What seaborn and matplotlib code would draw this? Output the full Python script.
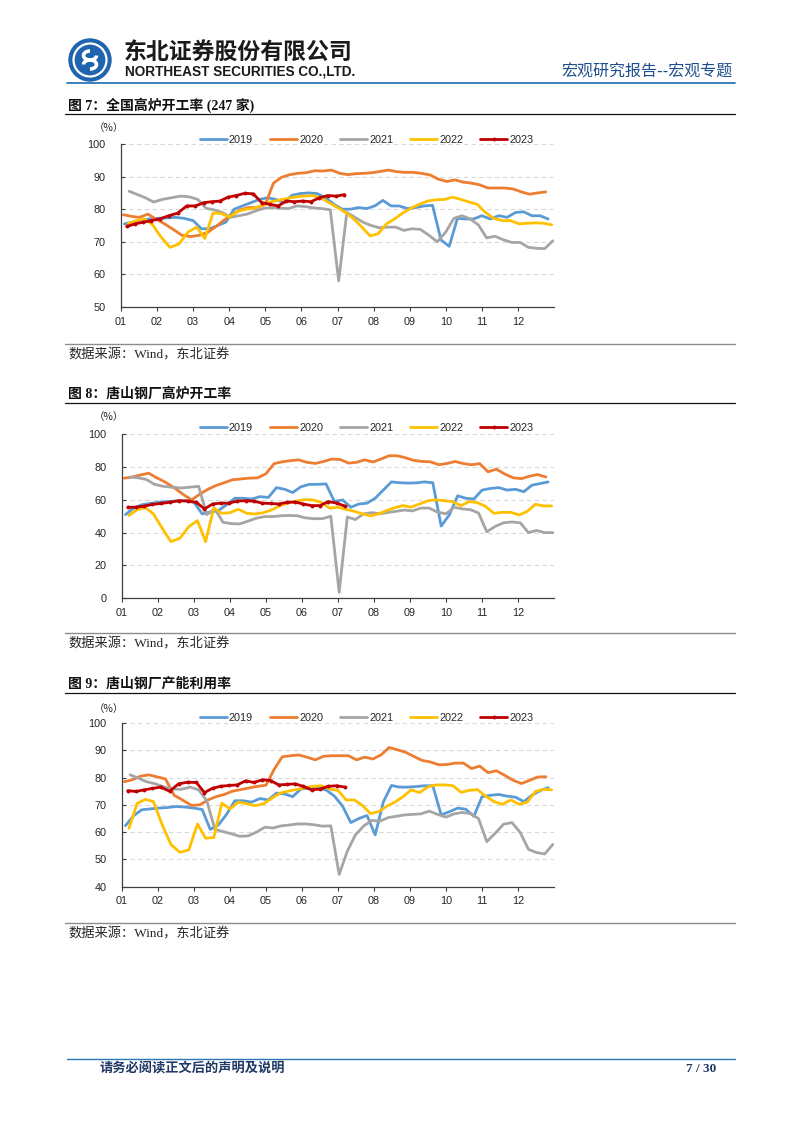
import numpy as np
import pandas as pd
import matplotlib
matplotlib.use("Agg")
import matplotlib.pyplot as plt
import seaborn as sns
from matplotlib.patches import Circle, Arc

# ---------------- data ----------------
years = ["2019", "2020", "2021", "2022", "2023"]
first_week = {"2019": "2019-01-04", "2020": "2020-01-03", "2021": "2021-01-08",
              "2022": "2022-01-07", "2023": "2023-01-06"}
month_labels = ["01", "02", "03", "04", "05", "06", "07", "08", "09", "10", "11", "12"]

# Figure 7: national blast furnace operating rate (247 mills), %
c1_2019 = [75.5, 76, 76.5, 77, 77.2, 77.3, 77.5, 77.2, 76.5, 74, 74, 75, 76, 80, 81, 82, 83, 83.5, 83, 82,
           84.3, 84.8, 85, 84.8, 83.5, 81.5, 80, 80, 80.5, 80.2, 81, 82.7, 81, 81, 80.2, 80.5, 81, 81.2, 70.6, 68.6,
           77.2, 77, 77, 78, 77, 78, 77.5, 79, 79.2, 78, 78, 77]
c1_2020 = [78.3, 77.8, 77.5, 78.5, 77, 75.5, 73.8, 72, 71.6, 72, 72.8, 74.5, 76.5, 78.3, 79.8, 80.5, 80.5, 81.5, 88, 89.8,
           90.6, 91, 91.2, 91.8, 91.7, 92, 91, 90.6, 90.9, 91, 91.2, 91.6, 92, 91.5, 91.3, 91.3, 91, 90.5, 89.2, 88.5,
           89, 88.3, 88, 87.5, 86.5, 86.5, 86.5, 86.2, 85.3, 84.6, 85, 85.3]
c1_2021 = [85.5, 84.5, 83.5, 82.2, 83, 83.5, 84, 83.8, 83, 80.3, 79.8, 79, 77.5, 78, 78.5, 79.5, 80.3, 80.5, 80.3, 80.2,
           81, 80.8, 80.4, 80.2, 79.8, 58, 79, 77.5, 76, 75, 74.3, 74.5, 74.5, 73.5, 74, 73.8, 72, 70, 73, 77.2,
           78, 77, 75.2, 71.2, 71.7, 70.6, 69.8, 69.8, 68.3, 68, 67.9, 70.3]
c1_2022 = [75.5, 76.5, 77, 75.3, 71.5, 68.3, 69.3, 73, 74.5, 71, 78.8, 78.7, 77.6, 79.3, 80, 80.3, 81.3, 82.3, 82.8, 83.3,
           83.8, 84, 84.2, 83.5, 82, 80.5, 79, 77, 74.5, 71.8, 72.5, 75.5, 77, 78.8, 80.3, 81.5, 82.5, 82.9, 83, 83.7,
           83, 82.2, 81.5, 79, 77.2, 76.5, 76.5, 75.5, 75.7, 75.8, 75.7, 75.2]
c1_2023 = [74.7, 75.5, 76, 76.5, 77, 78, 78.8, 81, 81, 82, 82.3, 82.5, 83.7, 84.2, 84.9, 84.7, 82, 81.5, 81, 82.5,
           82.3, 82.5, 82.3, 83.5, 84.2, 84, 84.5]

# Figure 8: Tangshan blast furnace operating rate, %
c2_2019 = [51, 55, 57, 57.8, 58.5, 59, 59.3, 59.5, 58.5, 51.5, 52.5, 53.5, 57, 61, 61, 60.5, 62, 61.5, 67.5, 66.5,
           64.5, 68, 69.5, 69.5, 69.8, 59, 60, 55.5, 57.5, 58, 61, 66, 71, 70.5, 70.3, 70.4, 71, 70.5, 44, 51,
           62.5, 61, 60.5, 66, 67, 67.5, 66, 66.5, 65, 69, 70, 71]
c2_2020 = [73.3, 74, 75.3, 76.3, 73.5, 70.8, 67.5, 63.5, 60, 63.5, 66.5, 68.8, 70.5, 72.3, 72.8, 73.3, 73.5, 76, 82.2, 83.3,
           84, 84.5, 83, 82.3, 83.5, 85, 84.7, 82.5, 83, 84.5, 83.2, 85, 87, 87, 85.8, 84.2, 83.5, 83.3, 81.5, 82.3,
           83.5, 82.2, 81.5, 82.2, 77.2, 78.8, 75.8, 73.5, 73, 74.5, 75.5, 74]
c2_2021 = [74, 73.5, 72.5, 69.5, 68.3, 67.7, 67.3, 67.8, 68.3, 51, 54.5, 46.3, 45.5, 45.3, 47, 48.8, 49.8, 49.8, 50.3, 50.5,
           50.3, 49, 48.5, 48.5, 50, 3.5, 49.5, 48, 51.5, 52.2, 51.5, 52.3, 53, 53.8, 53.3, 55, 55, 52.5, 51.5, 55.5,
           54.5, 54, 52, 40.5, 43.8, 46, 46.5, 46, 40, 41.3, 40, 40]
c2_2022 = [50.5, 54, 55.3, 51.5, 43, 34.5, 36.5, 43.7, 47.3, 34.5, 55, 51.8, 52.2, 54.3, 51.8, 51.4, 52.2, 53.9, 56.5, 58,
           59.2, 60.2, 60, 58.5, 55, 55.5, 54.2, 53, 51.5, 50.2, 51.5, 53.5, 55.3, 56.5, 55.6, 57.5, 59.5, 60, 59.5, 58.8,
           56.5, 59, 58.3, 56, 51.8, 52.4, 52.4, 50.8, 53, 57.3, 56.3, 56.3]
c2_2023 = [55.5, 55.5, 56.2, 57.2, 57.8, 58.5, 59.5, 59.3, 58.5, 54.5, 57.5, 58, 58, 59.3, 59.5, 59.2, 58, 57.8, 57.5, 58.5,
           58.7, 57.5, 56.5, 56.5, 59, 58, 56.2]

# Figure 9: Tangshan mills capacity utilisation, %
c3_2019 = [62.4, 66, 68.2, 68.5, 68.8, 69, 69.4, 69.2, 68.8, 68.3, 61, 62.6, 66.5, 71.5, 71.5, 71, 72.3, 71.8, 74.3, 74,
           73, 75.8, 76.1, 76, 75.5, 73.2, 69.5, 63.5, 65, 66.1, 59, 71, 77.1, 76.5, 76.5, 76.7, 77, 77, 66.3, 67.5,
           68.8, 68.4, 65.8, 73, 73.5, 73.8, 73.2, 72.8, 71.2, 73.5, 75.2, 76.3]
c3_2020 = [78.5, 79.2, 80.5, 81, 80.3, 79.5, 73.5, 71.7, 69.8, 70, 71.8, 73, 73.8, 75, 75.6, 76.2, 76.8, 77.2, 83, 87.6,
           88, 88.3, 87.5, 86.5, 87.8, 88, 88, 88, 86.5, 87.5, 86.8, 88.3, 91, 90.2, 89.3, 87.8, 86.3, 85.7, 84.7, 84.8,
           85.3, 85.3, 83.3, 84.2, 81.8, 82.5, 80.8, 79, 77.8, 79, 80.2, 80.3]
c3_2021 = [81, 79.8, 78.5, 77.8, 76.7, 75.8, 75.7, 76.5, 75.5, 71.5, 61, 60.2, 59.4, 58.5, 58.6, 60, 61.8, 61.5, 62.3, 62.6,
           63, 63, 62.7, 62.2, 62.3, 44.5, 53, 59, 62.2, 64.3, 64, 65.3, 65.8, 66.3, 66.5, 66.7, 67.7, 66.5, 65.5, 66.7,
           67.2, 66.8, 65, 56.5, 59.6, 62.9, 63.5, 59.8, 53.7, 52.5, 52, 55.5]
c3_2022 = [61.4, 70.5, 72, 71.2, 63, 55.5, 52.6, 53.5, 63, 57.8, 58, 70.6, 68.5, 71, 70.4, 69.7, 70.4, 72.4, 74.3, 75,
           75.6, 76.2, 76.8, 77, 75.8, 75.3, 71.8, 71.8, 69.8, 66.8, 67.5, 69.5, 71, 73, 75.5, 74.5, 76.6, 77.3, 77.3, 77,
           74.6, 75.3, 75.6, 73.2, 71.2, 70.2, 71.8, 70.2, 71, 74.9, 75.7, 75.5]
c3_2023 = [75.2, 74.9, 75.5, 76, 76.5, 75, 77.7, 78.3, 78.2, 74.5, 76.1, 76.8, 77.1, 77.3, 78.8, 78.2, 79.2, 78.9, 77.3, 77.5,
           77.7, 76.8, 75.5, 75.8, 76.8, 77, 76.5]

datasets = [
    dict(zip(years, [c1_2019, c1_2020, c1_2021, c1_2022, c1_2023])),
    dict(zip(years, [c2_2019, c2_2020, c2_2021, c2_2022, c2_2023])),
    dict(zip(years, [c3_2019, c3_2020, c3_2021, c3_2022, c3_2023])),
]
titles = ["图 7：全国高炉开工率 (247 家)", "图 8：唐山钢厂高炉开工率", "图 9：唐山钢厂产能利用率"]
y_ranges = [(50, 100, 10), (0, 100, 20), (40, 100, 10)]
source_text = "数据来源：Wind，东北证券"
unit_text = "（%）"

# ---------------- style ----------------
colors = {"2019": "#5B9BD5", "2020": "#ED7D31", "2021": "#A5A5A5", "2022": "#FFC000", "2023": "#C00000"}
sns.set_theme(style="white")
plt.rcParams["font.family"] = ["Liberation Sans", "Noto Sans CJK SC", "DejaVu Sans"]
CJK = ["Noto Sans CJK SC", "DejaVu Sans"]
SERIF_CJK = ["Liberation Serif", "Noto Sans CJK SC", "DejaVu Sans"]

W, H = 802, 1133
fig = plt.figure(figsize=(W / 100, H / 100), dpi=100)
fig.patch.set_facecolor("white")
deco = fig.add_axes([0, 0, 1, 1])
deco.set_xlim(0, W)
deco.set_ylim(H, 0)
deco.axis("off")

layout = [
    dict(box=(121, 144, 554, 307), legend_y=140, unit=(109, 128), title_y=105, title_line=114, src_line=344, src_y=355),
    dict(box=(122, 434.5, 554, 598), legend_y=428, unit=(109, 417), title_y=394, title_line=403, src_line=633, src_y=644),
    dict(box=(122, 723, 554, 886.7), legend_y=718, unit=(109, 709), title_y=684, title_line=693, src_line=923, src_y=934),
]


def week_x(year, n):
    d = pd.date_range(first_week[year], periods=n, freq="7D")
    return np.asarray((d.month - 1) + (d.day - 1) / d.days_in_month, dtype=float)


for data, (lo, hi, step), title, L in zip(datasets, y_ranges, titles, layout):
    l, t, r, b = L["box"]
    ax = fig.add_axes([l / W, 1 - b / H, (r - l) / W, (b - t) / H])
    for yr in years:
        vals = data[yr]
        df = pd.DataFrame({"x": week_x(yr, len(vals)), "v": vals})
        kw = dict(marker="o", markersize=2.8, markeredgewidth=0) if yr == "2023" else {}
        sns.lineplot(data=df, x="x", y="v", ax=ax, color=colors[yr], linewidth=2.0, label=yr, **kw)
    ax.set_xlim(0, 12)
    ax.set_ylim(lo, hi)
    ax.set_xticks(range(12))
    ax.set_xticklabels(month_labels)
    ax.set_yticks(np.arange(lo, hi + 1, step))
    ax.set_xlabel("")
    ax.set_ylabel("")
    ax.grid(axis="y", linestyle=(0, (4, 3)), color="#D9D9D9", linewidth=0.8)
    ax.grid(axis="x", visible=False)
    ax.set_axisbelow(True)
    for s in ["top", "right"]:
        ax.spines[s].set_visible(False)
    for s in ["left", "bottom"]:
        ax.spines[s].set_color("#404040")
        ax.spines[s].set_linewidth(0.9)
    ax.tick_params(axis="x", bottom=True, direction="out", length=3, width=0.8, color="#404040",
                   pad=4, labelsize=7.8, labelcolor="#262626")
    ax.tick_params(axis="y", left=True, direction="in", length=3, width=0.8, color="#404040",
                   pad=11, labelsize=7.8, labelcolor="#262626")
    handles, labels = ax.get_legend_handles_labels()
    ax.legend(handles, labels, ncol=5, loc="center",
              bbox_to_anchor=(366.5 / W, 1 - L["legend_y"] / H), bbox_transform=fig.transFigure,
              frameon=False, fontsize=7.8, handlelength=2.5, handletextpad=0.2, columnspacing=1.55,
              borderaxespad=0, borderpad=0)

    # titles, rules, source, unit
    deco.text(68, L["title_y"], title, fontsize=10, fontweight="bold", va="center", ha="left",
              family=SERIF_CJK, color="#111111")
    deco.plot([65, 735], [L["title_line"]] * 2, color="#111111", lw=0.9)
    deco.plot([65, 735], [L["src_line"]] * 2, color="#8C8C8C", lw=1.0)
    deco.text(68, L["src_y"], source_text, fontsize=9.5, va="center", ha="left",
              family=SERIF_CJK, color="#262626")
    deco.text(L["unit"][0], L["unit"][1], unit_text, fontsize=7.5, va="center", ha="center",
              family=CJK, color="#262626")

# ---------------- header ----------------
blue = "#1E64AF"
deco.add_patch(Circle((90, 60), 21, color=blue, zorder=3))
deco.add_patch(Circle((90, 60), 16.5, fill=False, ec="white", lw=1.6, zorder=4))
deco.add_patch(Arc((90, 55.5), 13, 9, theta1=0, theta2=270, color="white", lw=2.6, zorder=5))
deco.add_patch(Arc((90, 64.5), 13, 9, theta1=180, theta2=450, color="white", lw=2.6, zorder=5))
deco.text(124, 52, "东北证券股份有限公司", fontsize=16.5, fontweight="bold", va="center", ha="left",
          family=CJK, color="#1a1a1a")
deco.text(125, 72, "NORTHEAST SECURITIES CO.,LTD.", fontsize=9.8, fontweight="bold", va="center", ha="left",
          family=["Liberation Sans"], color="#1a1a1a")
deco.text(733, 72, "宏观研究报告--宏观专题", fontsize=11.5, va="center", ha="right",
          family=CJK, color="#1F4E8C")
deco.plot([67, 735], [83, 83], color="#2E75B6", lw=1.3)

# ---------------- footer ----------------
deco.plot([67, 735], [1059, 1059], color="#2E75B6", lw=1.0)
deco.text(100, 1069, "请务必阅读正文后的声明及说明", fontsize=9.5, fontweight="bold", va="center", ha="left",
          family=CJK, color="#1F3864")
deco.text(716, 1069, "7 / 30", fontsize=9.5, fontweight="bold", va="center", ha="right",
          family=["Liberation Serif"], color="#1F3864")

fig.savefig("out.png", dpi=100, facecolor="white")
